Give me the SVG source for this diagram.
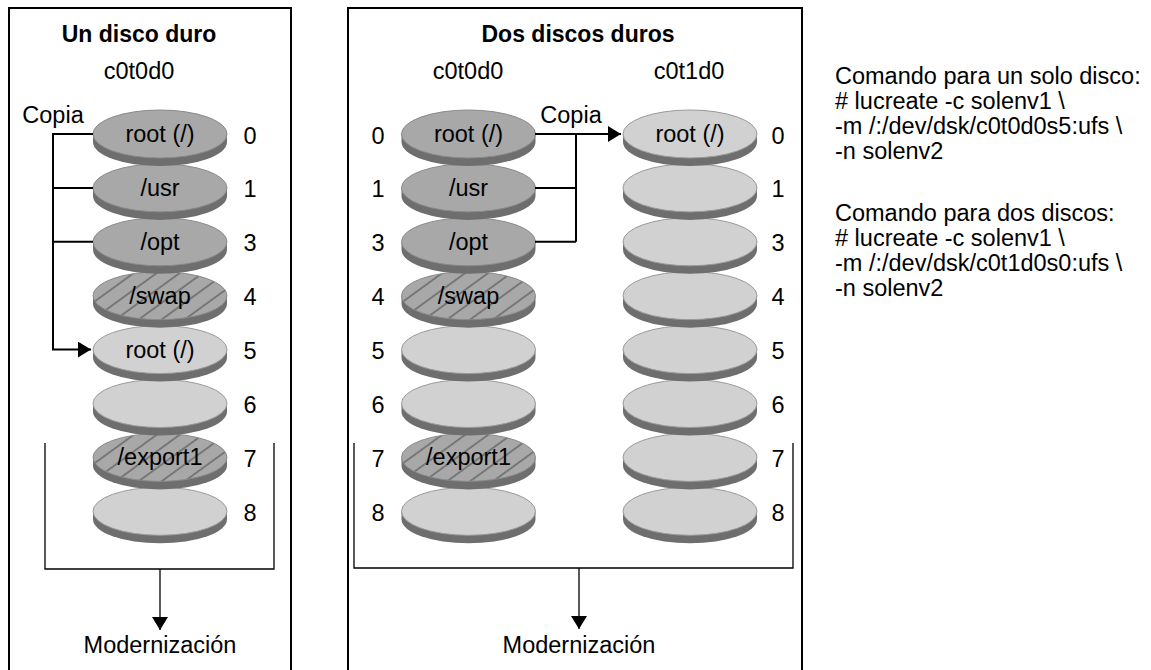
<svg xmlns="http://www.w3.org/2000/svg" xmlns:xlink="http://www.w3.org/1999/xlink" width="1151" height="670" viewBox="0 0 1151 670">
<style>
text { font-family: "Liberation Sans", Arial, sans-serif; font-size: 23.5px; fill: #000; text-anchor: middle; }
text.b { font-weight: bold; font-size: 23px; }
text.l { text-anchor: start; }
.box { fill: none; stroke: #000; stroke-width: 2; }
.copy { fill: none; stroke: #000; stroke-width: 2; }
.brk { fill: none; stroke: #000; stroke-width: 1.3; }
.rim { fill: #6e6e6e; }
.dark { fill: #a8a8a8; stroke: #8a8a8a; stroke-width: 1; }
.light { fill: #d1d1d1; stroke: #9a9a9a; stroke-width: 1; }
.hatch { fill: url(#hatch); stroke: #8a8a8a; stroke-width: 1; }
</style>
<defs>
<pattern id="hatch" patternUnits="userSpaceOnUse" width="30" height="13.5" patternTransform="rotate(-36)">
<rect width="30" height="13.5" fill="#a8a8a8"/>
<line x1="0" y1="6.75" x2="30" y2="6.75" stroke="#505050" stroke-width="1.1"/>
</pattern>
<path id="rimShape" d="M-67,0 V8 A67,24 0 0 0 67,8 V0 Z"/>
<marker id="arr" markerUnits="userSpaceOnUse" markerWidth="14" markerHeight="16" refX="13" refY="8" orient="auto">
<path d="M0,0 L13,8 L0,16 Z" fill="#000"/>
</marker>
</defs>

<g id="panels">
<rect id="panel-one" class="box" x="9" y="8" width="282" height="680"/>
<rect id="panel-two" class="box" x="348" y="8" width="454" height="680"/>
</g>

<g id="headers">
<text class="b" x="139" y="42">Un disco duro</text>
<text x="139" y="79">c0t0d0</text>
<text class="b" x="578" y="42">Dos discos duros</text>
<text x="468" y="79">c0t0d0</text>
<text x="689" y="79">c0t1d0</text>
<text x="53" y="123">Copia</text>
<text x="571" y="123">Copia</text>
</g>

<!-- Left panel disc: cx=160 -->
<g id="disk1">
<g id="d1s8" transform="translate(160,511.3)"><use href="#rimShape" class="rim"/><ellipse class="light" rx="67" ry="24"/></g>
<g id="d1s7" transform="translate(160,457.4)"><use href="#rimShape" class="rim"/><ellipse class="hatch" rx="67" ry="24"/><text x="0" y="8">/export1</text></g>
<g id="d1s6" transform="translate(160,403.5)"><use href="#rimShape" class="rim"/><ellipse class="light" rx="67" ry="24"/></g>
<g id="d1s5" transform="translate(160,349.6)"><use href="#rimShape" class="rim"/><ellipse class="light" rx="67" ry="24"/><text x="0" y="8">root (/)</text></g>
<g id="d1s4" transform="translate(160,295.7)"><use href="#rimShape" class="rim"/><ellipse class="hatch" rx="67" ry="24"/><text x="0" y="8">/swap</text></g>
<g id="d1s3" transform="translate(160,241.8)"><use href="#rimShape" class="rim"/><ellipse class="dark" rx="67" ry="24"/><text x="0" y="8">/opt</text></g>
<g id="d1s1" transform="translate(160,187.9)"><use href="#rimShape" class="rim"/><ellipse class="dark" rx="67" ry="24"/><text x="0" y="8">/usr</text></g>
<g id="d1s0" transform="translate(160,134)"><use href="#rimShape" class="rim"/><ellipse class="dark" rx="67" ry="24"/><text x="0" y="8">root (/)</text></g>
</g>

<!-- Middle panel disc A: cx=468.5 -->
<g id="disk2a">
<g id="d2as8" transform="translate(468.5,511.3)"><use href="#rimShape" class="rim"/><ellipse class="light" rx="67" ry="24"/></g>
<g id="d2as7" transform="translate(468.5,457.4)"><use href="#rimShape" class="rim"/><ellipse class="hatch" rx="67" ry="24"/><text x="0" y="8">/export1</text></g>
<g id="d2as6" transform="translate(468.5,403.5)"><use href="#rimShape" class="rim"/><ellipse class="light" rx="67" ry="24"/></g>
<g id="d2as5" transform="translate(468.5,349.6)"><use href="#rimShape" class="rim"/><ellipse class="light" rx="67" ry="24"/></g>
<g id="d2as4" transform="translate(468.5,295.7)"><use href="#rimShape" class="rim"/><ellipse class="hatch" rx="67" ry="24"/><text x="0" y="8">/swap</text></g>
<g id="d2as3" transform="translate(468.5,241.8)"><use href="#rimShape" class="rim"/><ellipse class="dark" rx="67" ry="24"/><text x="0" y="8">/opt</text></g>
<g id="d2as1" transform="translate(468.5,187.9)"><use href="#rimShape" class="rim"/><ellipse class="dark" rx="67" ry="24"/><text x="0" y="8">/usr</text></g>
<g id="d2as0" transform="translate(468.5,134)"><use href="#rimShape" class="rim"/><ellipse class="dark" rx="67" ry="24"/><text x="0" y="8">root (/)</text></g>
</g>

<!-- Middle panel disc B: cx=690 -->
<g id="disk2b">
<g id="d2bs8" transform="translate(690,511.3)"><use href="#rimShape" class="rim"/><ellipse class="light" rx="67" ry="24"/></g>
<g id="d2bs7" transform="translate(690,457.4)"><use href="#rimShape" class="rim"/><ellipse class="light" rx="67" ry="24"/></g>
<g id="d2bs6" transform="translate(690,403.5)"><use href="#rimShape" class="rim"/><ellipse class="light" rx="67" ry="24"/></g>
<g id="d2bs5" transform="translate(690,349.6)"><use href="#rimShape" class="rim"/><ellipse class="light" rx="67" ry="24"/></g>
<g id="d2bs4" transform="translate(690,295.7)"><use href="#rimShape" class="rim"/><ellipse class="light" rx="67" ry="24"/></g>
<g id="d2bs3" transform="translate(690,241.8)"><use href="#rimShape" class="rim"/><ellipse class="light" rx="67" ry="24"/></g>
<g id="d2bs1" transform="translate(690,187.9)"><use href="#rimShape" class="rim"/><ellipse class="light" rx="67" ry="24"/></g>
<g id="d2bs0" transform="translate(690,134)"><use href="#rimShape" class="rim"/><ellipse class="light" rx="67" ry="24"/><text x="0" y="8">root (/)</text></g>
</g>

<g id="slice-numbers">
<text x="250" y="143.5">0</text><text x="250" y="197.4">1</text><text x="250" y="251.3">3</text><text x="250" y="305.2">4</text>
<text x="250" y="359.1">5</text><text x="250" y="413">6</text><text x="250" y="466.9">7</text><text x="250" y="520.8">8</text>
<text x="378" y="143.5">0</text><text x="378" y="197.4">1</text><text x="378" y="251.3">3</text><text x="378" y="305.2">4</text>
<text x="378" y="359.1">5</text><text x="378" y="413">6</text><text x="378" y="466.9">7</text><text x="378" y="520.8">8</text>
<text x="778" y="143.5">0</text><text x="778" y="197.4">1</text><text x="778" y="251.3">3</text><text x="778" y="305.2">4</text>
<text x="778" y="359.1">5</text><text x="778" y="413">6</text><text x="778" y="466.9">7</text><text x="778" y="520.8">8</text>
</g>

<g id="connectors">
<path class="copy" d="M93,134 H53 V349.6 H91" marker-end="url(#arr)"/>
<path class="copy" d="M93,187.9 H53"/>
<path class="copy" d="M93,241.8 H53"/>
<path class="copy" d="M535,134 H621" marker-end="url(#arr)"/>
<path class="copy" d="M576,134 V241.8"/>
<path class="copy" d="M535,187.9 H576"/>
<path class="copy" d="M535,241.8 H576"/>
<path class="brk" d="M45,443 V569 H274 V443"/>
<path class="brk" d="M160,569 V630" marker-end="url(#arr)"/>
<path class="brk" d="M354,443 V568 H793 V443"/>
<path class="brk" d="M579,568 V629" marker-end="url(#arr)"/>
</g>

<g id="outcomes">
<text x="160" y="653">Modernización</text>
<text x="579" y="653">Modernización</text>
</g>

<g id="commands">
<text class="l" x="835" y="84">Comando para un solo disco:</text>
<text class="l" x="835" y="109"># lucreate -c solenv1 \</text>
<text class="l" x="835" y="134">-m /:/dev/dsk/c0t0d0s5:ufs \</text>
<text class="l" x="835" y="159">-n solenv2</text>
<text class="l" x="835" y="221">Comando para dos discos:</text>
<text class="l" x="835" y="246"># lucreate -c solenv1 \</text>
<text class="l" x="835" y="271">-m /:/dev/dsk/c0t1d0s0:ufs \</text>
<text class="l" x="835" y="296">-n solenv2</text>
</g>
</svg>
